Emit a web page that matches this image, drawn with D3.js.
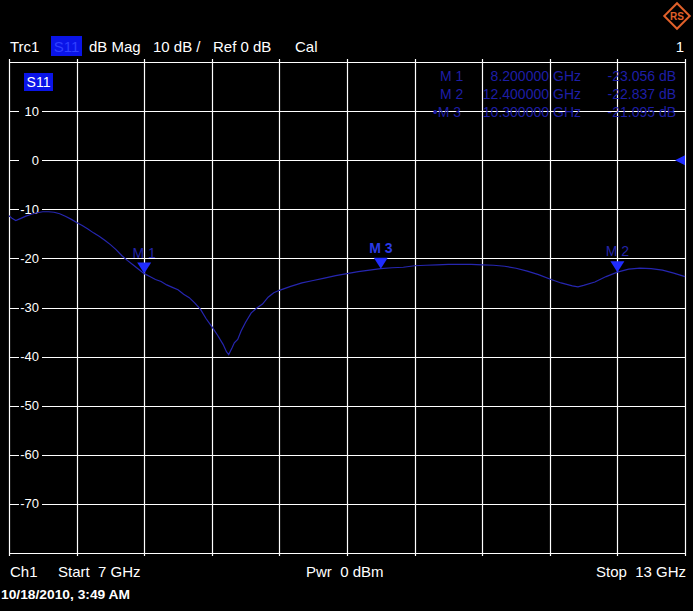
<!DOCTYPE html>
<html><head><meta charset="utf-8">
<script src="https://cdn.jsdelivr.net/npm/d3@7"></script>
<style>html,body{margin:0;padding:0;background:#000;overflow:hidden} text{white-space:pre}</style>
</head><body>
<svg id="c" width="693" height="611"></svg>
<script>
// ---- data ----
const freqGHz = [7.00,7.03,7.06,7.10,7.15,7.20,7.25,7.30,7.35,7.40,7.45,7.50,7.55,7.60,7.65,7.70,7.75,7.80,7.85,7.90,7.95,8.00,8.05,8.10,8.15,8.20,8.25,8.30,8.35,8.40,8.45,8.50,8.55,8.60,8.65,8.70,8.75,8.80,8.85,8.90,8.93,8.95,8.98,9.00,9.03,9.06,9.10,9.15,9.20,9.25,9.30,9.35,9.40,9.50,9.60,9.70,9.80,9.90,10.00,10.10,10.20,10.30,10.40,10.50,10.60,10.70,10.80,10.90,11.00,11.10,11.20,11.30,11.40,11.50,11.60,11.70,11.80,11.90,12.00,12.05,12.10,12.20,12.30,12.40,12.50,12.60,12.70,12.80,12.90,13.00];
const s11dB = [-11.3,-11.9,-12.3,-11.9,-11.4,-11.0,-10.7,-10.5,-10.5,-10.6,-10.9,-11.4,-12.0,-12.7,-13.3,-14.0,-14.8,-15.5,-16.3,-17.2,-18.2,-19.4,-20.4,-21.3,-22.2,-23.1,-23.7,-24.3,-24.7,-25.4,-25.9,-26.4,-27.3,-28.0,-29.1,-30.4,-32.3,-33.9,-35.6,-37.5,-39.0,-39.6,-38.2,-37.2,-36.5,-34.8,-33.0,-31.1,-30.1,-29.3,-27.9,-27.0,-26.5,-25.7,-25.0,-24.5,-24.0,-23.5,-23.1,-22.7,-22.4,-22.1,-21.9,-21.8,-21.5,-21.4,-21.3,-21.2,-21.2,-21.2,-21.3,-21.4,-21.6,-22.0,-22.6,-23.3,-24.2,-25.0,-25.6,-25.8,-25.5,-24.8,-23.7,-22.8,-22.2,-22.0,-22.1,-22.4,-23.0,-23.7];
const markerNames = ["M 1","M 2","M 3"];
const markerFreqs = [8.2,12.4,10.3];
const markerValues = [-23.056,-22.837,-21.095];
const yTicks = [10,0,-10,-20,-30,-40,-50,-60,-70];
const xDomain = [7,13];
const yDomain = [-80,20];

// ---- drawing ----
const svg = d3.select("#c");
const font = "'Liberation Sans', Arial, sans-serif";
const L=9, R=685, T=62, B=553;
const x = d3.scaleLinear().domain(xDomain).range([L,R]);
const y = d3.scaleLinear().domain(yDomain).range([B,T]);

svg.append("rect").attr("width",693).attr("height",611).attr("fill","#000");

// grid
const g = svg.append("g");
const xGrid = d3.range(0,11).map(i=>xDomain[0]+i*(xDomain[1]-xDomain[0])/10);
const yGrid = d3.range(0,11).map(i=>yDomain[0]+i*(yDomain[1]-yDomain[0])/10);
g.selectAll("line.v").data(xGrid).join("line")
  .attr("x1",d=>Math.round(x(d))+0.5).attr("x2",d=>Math.round(x(d))+0.5)
  .attr("y1",T-3).attr("y2",B+3).attr("stroke","#fff").attr("stroke-width",1.2);
g.selectAll("line.h").data(yGrid).join("line")
  .attr("y1",d=>Math.round(y(d))+0.5).attr("y2",d=>Math.round(y(d))+0.5)
  .attr("x1",L).attr("x2",R).attr("stroke","#fff").attr("stroke-width",1.2);

// y tick labels with black background
const yl = svg.append("g");
yTicks.forEach(t=>{
  yl.append("rect").attr("x",19).attr("y",y(t)-7).attr("width",23).attr("height",14).attr("fill","#000");
  yl.append("text").attr("x",39).attr("y",y(t)+4.5).attr("text-anchor","end")
    .attr("fill","#fff").attr("font-family",font).attr("font-size",13).text(t);
});

// trace
const line = d3.line().x((d,i)=>x(freqGHz[i])).y(d=>y(d));
svg.append("path").datum(s11dB).attr("d",line).attr("fill","none")
  .attr("stroke","#2626b0").attr("stroke-width",1.2);

// markers
const interp = f=>{
  const i = d3.bisectLeft(freqGHz,f);
  if(freqGHz[i]===f) return s11dB[i];
  const f0=freqGHz[i-1], f1=freqGHz[i];
  return s11dB[i-1]+(s11dB[i]-s11dB[i-1])*(f-f0)/(f1-f0);
};
markerFreqs.forEach((f,i)=>{
  const px = x(f), py = y(interp(f));
  svg.append("path").attr("d",`M${px-7},${py-11}L${px+7},${py-11}L${px},${py}Z`).attr("fill","#1f2cff");
  const active = i===2;
  svg.append("text").attr("x",px).attr("y",py-16).attr("text-anchor","middle")
    .attr("fill",active?"#2a3ae6":"#2424a8").attr("font-weight",active?"bold":"normal")
    .attr("font-family",font).attr("font-size",14).text(markerNames[i]);
});

// marker readout table
markerNames.forEach((n,i)=>{
  const yy = 81 + i*18;
  const c = "#1e1ea6";
  svg.append("text").attr("y",yy).attr("fill",c).attr("font-family",font).attr("font-size",14).text((i===2?"•":"")+n)
    .attr("text-anchor",i===2?"end":"start").attr("x",i===2?461:440);
  svg.append("text").attr("x",549).attr("y",yy).attr("text-anchor","end").attr("fill",c).attr("font-family",font).attr("font-size",14).text(markerFreqs[i].toFixed(6));
  svg.append("text").attr("x",553).attr("y",yy).attr("fill",c).attr("font-family",font).attr("font-size",14).text("GHz");
  svg.append("text").attr("x",655).attr("y",yy).attr("text-anchor","end").attr("fill",c).attr("font-family",font).attr("font-size",14).text(markerValues[i].toFixed(3));
  svg.append("text").attr("x",659).attr("y",yy).attr("fill",c).attr("font-family",font).attr("font-size",14).text("dB");
});

// reference level arrow
svg.append("path").attr("d",`M${R-10},${y(0)}L${R},${y(0)-5}L${R},${y(0)+5}Z`).attr("fill","#1f2cff");

// S11 label box
svg.append("rect").attr("x",24).attr("y",73).attr("width",29).attr("height",18).attr("fill","#0a14e8");
svg.append("text").attr("x",38.5).attr("y",87).attr("text-anchor","middle").attr("fill","#fff").attr("font-family",font).attr("font-size",14).text("S11");

// header
const hdr = (txt,xx,opts={})=>svg.append("text").attr("x",xx).attr("y",opts.y||52).attr("fill",opts.fill||"#fff")
  .attr("font-family",font).attr("font-size",opts.size||15).attr("font-weight",opts.weight||"normal")
  .attr("text-anchor",opts.anchor||"start").text(txt);
svg.append("rect").attr("x",51).attr("y",36).attr("width",31).attr("height",20).attr("fill","#0a14e8");
hdr("Trc1",10);
hdr("S11",66.5,{anchor:"middle",fill:"#3040ff"});
hdr("dB Mag",89);
hdr("10 dB /",153);
hdr("Ref 0 dB",213);
hdr("Cal",295);
hdr("1",684,{anchor:"end"});

// footer
hdr("Ch1",10,{y:577});
hdr("Start  7 GHz",58,{y:577});
hdr("Pwr  0 dBm",306,{y:577});
hdr("Stop  13 GHz",686,{y:577,anchor:"end"});
svg.append("text").attr("x",1).attr("y",599).attr("fill","#fff").attr("font-family",font)
  .attr("font-size",13).attr("font-weight","bold").attr("textLength",129).attr("lengthAdjust","spacingAndGlyphs")
  .text("10/18/2010, 3:49 AM");

// R&S logo
const lg = svg.append("g").attr("transform","translate(677,16)");
lg.append("rect").attr("x",-9).attr("y",-9).attr("width",18).attr("height",18).attr("transform","rotate(45)")
  .attr("fill","none").attr("stroke","#e0602a").attr("stroke-width",2);
lg.append("text").attr("x",0).attr("y",4).attr("text-anchor","middle").attr("fill","#e0602a")
  .attr("font-family",font).attr("font-size",10).attr("font-weight","bold").text("RS");
</script>
</body></html>
